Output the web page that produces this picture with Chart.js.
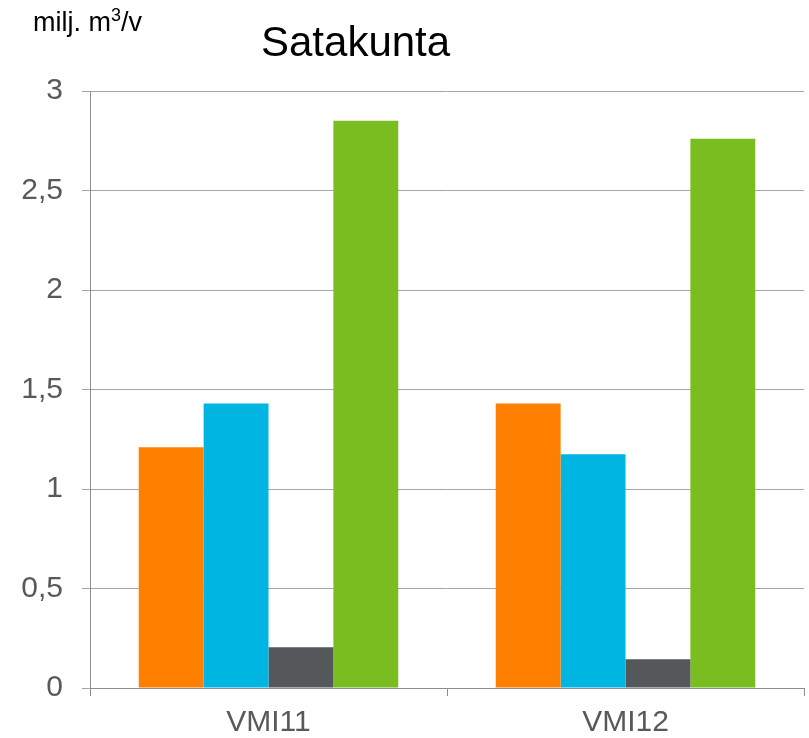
<!DOCTYPE html>
<html><head><meta charset="utf-8">
<script src="https://cdn.jsdelivr.net/npm/chart.js@4/dist/chart.umd.min.js"></script>
<style>
html,body{margin:0;padding:0;background:#fff;}
#wrap{position:relative;width:809px;height:738px;}
canvas{position:absolute;left:0;top:0;}
.t{position:absolute;font-family:"Liberation Sans",Arial,sans-serif;color:#000;white-space:nowrap;}
</style></head>
<body>
<div id="wrap">
<canvas id="c" width="809" height="738"></canvas>
<div class="t" style="left:33px;top:9px;font-size:27px;line-height:27px;">milj. m<sup style="font-size:18px;line-height:0;">3</sup>/v</div>
<div class="t" style="left:261px;top:21px;font-size:42px;line-height:42px;">Satakunta</div>
</div>
<script>
const categories = ["VMI11", "VMI12"];
const series1 = [1.21, 1.43];
const series2 = [1.43, 1.175];
const series3 = [0.205, 0.145];
const series4 = [2.85, 2.76];
const yTicks = [0, 0.5, 1, 1.5, 2, 2.5, 3];

const colors = ["#FF8000", "#00B5E2", "#55585B", "#7ABD21"];
const data = {
  labels: categories,
  datasets: [series1, series2, series3, series4].map((d, i) => ({
    label: "Sarja " + (i + 1),
    data: d,
    backgroundColor: colors[i],
    borderWidth: 0,
    categoryPercentage: 0.727,
    barPercentage: 1.0
  }))
};
new Chart(document.getElementById("c"), {
  type: "bar",
  data,
  options: {
    responsive: false,
    animation: false,
    devicePixelRatio: 1,
    layout: { padding: { top: 91, right: 5, left: 0, bottom: 0 } },
    plugins: { legend: { display: false }, title: { display: false }, tooltip: { enabled: false } },
    scales: {
      x: {
        offset: true,
        grid: { offset: true, drawOnChartArea: false, color: "#8c8c8c", tickLength: 8, lineWidth: 1 },
        border: { color: "#8c8c8c", width: 1 },
        ticks: { color: "#595959", font: { family: "Liberation Sans", size: 30 }, padding: 9 },
        afterFit: s => { s.height = 50; }
      },
      y: {
        min: 0, max: 3,
        afterBuildTicks: s => { s.ticks = yTicks.map(v => ({ value: v })); },
        grid: { color: "#a6a6a6", tickLength: 8, lineWidth: 1 },
        border: { color: "#8c8c8c", width: 1 },
        ticks: {
          color: "#595959", font: { family: "Liberation Sans", size: 30 }, padding: 19,
          callback: v => String(v).replace(".", ",")
        },
        afterFit: s => { s.width = 90; }
      }
    }
  }
});
</script>
</body></html>
